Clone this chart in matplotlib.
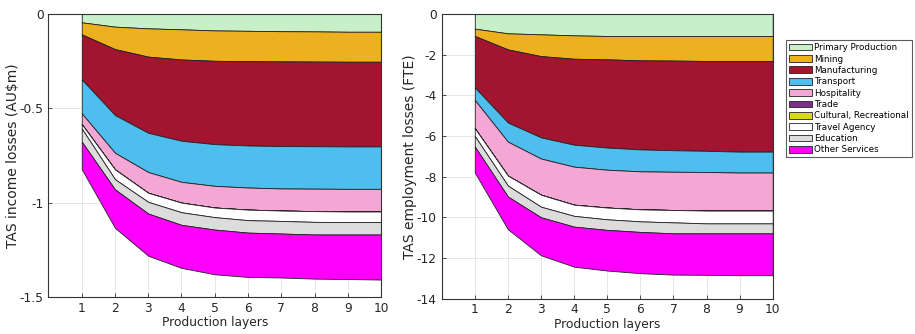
import numpy as np
import matplotlib
matplotlib.use('Agg')
import matplotlib.pyplot as plt

layers = np.arange(1, 11)

sectors = ['Primary Production', 'Mining', 'Manufacturing', 'Transport', 'Hospitality',
           'Trade', 'Cultural, Recreational', 'Travel Agency', 'Education', 'Other Services']
colors = ['#c8f0c8', '#edb120', '#a2142f', '#4dbeee', '#f4a6d4',
          '#7e2f8e', '#d9d915', '#ffffff', '#dcdcdc', '#ff00ff']

# income losses (AU$m) per sector, per production layer
inc_primary = [0.044, 0.067, 0.076, 0.081, 0.087, 0.089, 0.091, 0.092, 0.094, 0.094]
inc_mining = [0.064, 0.119, 0.150, 0.160, 0.161, 0.161, 0.160, 0.160, 0.159, 0.159]
inc_manuf = [0.239, 0.350, 0.404, 0.431, 0.442, 0.447, 0.449, 0.449, 0.449, 0.449]
inc_transport = [0.180, 0.200, 0.208, 0.218, 0.221, 0.223, 0.225, 0.225, 0.225, 0.225]
inc_hosp = [0.057, 0.088, 0.110, 0.110, 0.115, 0.117, 0.117, 0.119, 0.120, 0.120]
inc_trade = [0, 0, 0, 0, 0, 0, 0, 0, 0, 0]
inc_cultural = [0, 0, 0, 0, 0, 0, 0, 0, 0, 0]
inc_travel = [0.023, 0.052, 0.048, 0.051, 0.051, 0.056, 0.055, 0.057, 0.056, 0.056]
inc_edu = [0.070, 0.054, 0.062, 0.067, 0.066, 0.066, 0.067, 0.067, 0.066, 0.066]
inc_other = [0.146, 0.204, 0.224, 0.228, 0.237, 0.235, 0.233, 0.234, 0.236, 0.239]

# employment losses (FTE)
emp_primary = [0.72, 0.95, 1.00, 1.05, 1.08, 1.08, 1.08, 1.08, 1.08, 1.08]
emp_mining = [0.36, 0.79, 1.07, 1.15, 1.15, 1.20, 1.21, 1.23, 1.23, 1.23]
emp_manuf = [2.53, 3.60, 4.00, 4.23, 4.34, 4.38, 4.41, 4.42, 4.46, 4.46]
emp_transport = [0.62, 0.94, 1.04, 1.08, 1.09, 1.08, 1.06, 1.04, 1.03, 1.03]
emp_hosp = [1.39, 1.67, 1.78, 1.87, 1.86, 1.87, 1.88, 1.90, 1.87, 1.87]
emp_trade = [0, 0, 0, 0, 0, 0, 0, 0, 0, 0]
emp_cultural = [0, 0, 0, 0, 0, 0, 0, 0, 0, 0]
emp_travel = [0.38, 0.49, 0.59, 0.55, 0.58, 0.59, 0.61, 0.63, 0.63, 0.63]
emp_edu = [0.52, 0.54, 0.52, 0.53, 0.52, 0.52, 0.54, 0.49, 0.49, 0.49]
emp_other = [1.28, 1.61, 1.87, 1.97, 2.00, 2.03, 2.03, 2.04, 2.06, 2.06]

income = [inc_primary, inc_mining, inc_manuf, inc_transport, inc_hosp,
          inc_trade, inc_cultural, inc_travel, inc_edu, inc_other]
employment = [emp_primary, emp_mining, emp_manuf, emp_transport, emp_hosp,
              emp_trade, emp_cultural, emp_travel, emp_edu, emp_other]

fig = plt.figure(figsize=(9.15, 3.34), dpi=100)
ax1 = fig.add_axes([0.053, 0.111, 0.3634, 0.847])
ax2 = fig.add_axes([0.4827, 0.106, 0.3618, 0.852])


def draw(ax, data, ylim, yticks, ylabels, ylabel):
    vals = -np.array(data, dtype=float)
    polys = ax.stackplot(layers, vals, colors=colors, edgecolor='#222222', linewidth=0.6, zorder=2)
    ax.set_xlim(0, 10)
    ax.set_ylim(ylim, 0)
    ax.set_xticks(layers)
    ax.set_yticks(yticks)
    ax.set_yticklabels(ylabels)
    ax.grid(True, color='#e6e6e6', linewidth=0.7, zorder=0)
    ax.set_axisbelow(True)
    ax.tick_params(direction='in', top=True, right=True, length=3, labelsize=8.8,
                   colors='#333333', labelcolor='#262626', width=0.6)
    for s in ax.spines.values():
        s.set_color('#333333')
        s.set_linewidth(0.8)
        s.set_zorder(3)
    ax.set_xlabel('Production layers', fontsize=8.8, color='#262626', labelpad=1)
    ax.set_ylabel(ylabel, fontsize=10, color='#262626', labelpad=0)
    return polys


polys = draw(ax1, income, -1.5, [-1.5, -1, -0.5, 0], ['-1.5', '-1', '-0.5', '0'],
             'TAS income losses (AU$m)')
draw(ax2, employment, -14, np.arange(-14, 1, 2), [str(v) for v in range(-14, 1, 2)],
     'TAS employment losses (FTE)')

leg = fig.legend(polys, sectors, loc='upper left', bbox_to_anchor=(0.859, 0.880),
                 fontsize=6.3, frameon=True, fancybox=False, edgecolor='#333333',
                 handlelength=2.6, handleheight=0.8, handletextpad=0.3,
                 labelspacing=0.27, borderpad=0.35, borderaxespad=0)
leg.get_frame().set_linewidth(0.8)

plt.savefig('out.png', dpi=100)
